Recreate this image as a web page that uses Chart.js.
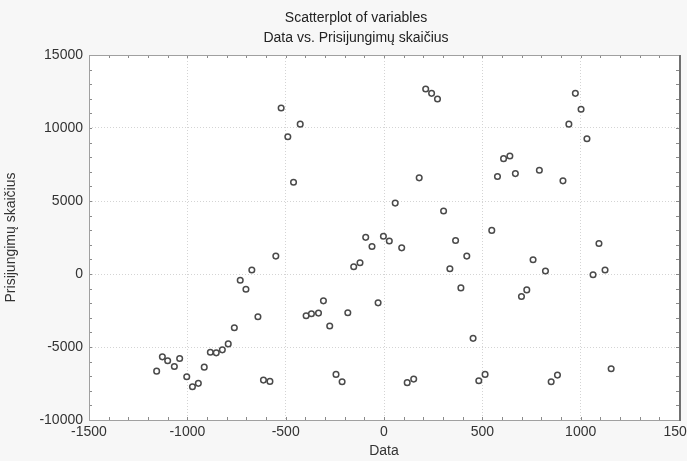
<!DOCTYPE html>
<html>
<head>
<meta charset="utf-8">
<script src="https://cdn.jsdelivr.net/npm/chart.js@4/dist/chart.umd.min.js"></script>
<style>
    html, body { margin: 0; padding: 0; background: #f7f7f7; }
    #wrap { width: 687px; height: 461px; }
</style>
</head>
<body>
<div id="wrap"><canvas id="scatter"></canvas></div>
<script>
const titleLines = ['Scatterplot of variables', 'Data vs. Prisijungimų skaičius'];
const xTitle = 'Data';
const yTitle = 'Prisijungimų skaičius';

const dataX = [-1156, -1127, -1100, -1066, -1039, -1003, -974, -944, -914, -883,
    -853, -822, -792, -761, -731, -702, -672, -641, -613, -580,
    -550, -523, -489, -460, -426, -396, -369, -333, -308, -276,
    -244, -213, -184, -154, -122, -93, -61, -30, -3, 27,
    57, 90, 118, 151, 179, 212, 242, 272, 303, 335,
    364, 391, 421, 453, 482, 514, 548, 577, 608, 640,
    668, 699, 726, 758, 790, 821, 850, 882, 910, 940,
    973, 1002, 1032, 1063, 1093, 1124, 1155];
const dataY = [-6653, -5673, -5945, -6333, -5788, -7037, -7718, -7491, -6381, -5360,
    -5400, -5196, -4788, -3677, -429, -1042, 272, -2928, -7266, -7355,
    1226, 11373, 9398, 6286, 10263, -2860, -2724, -2679, -1839, -3563,
    -6878, -7377, -2656, 497, 770, 2510, 1886, -1975, 2590, 2258,
    4856, 1791, -7443, -7198, 6585, 12667, 12374, 11986, 4311, 361,
    2295, -953, 1226, -4406, -7307, -6878, 2986, 6674, 7900, 8082,
    6878, -1546, -1090, 974, 7103, 204, -7377, -6926, 6381, 10263,
    12374, 11284, 9262, -48, 2090, 272, -6490];

const xRange = [-1500, 1500];
const yRange = [-10000, 15000];

const points = dataX.map((x, i) => ({ x: x, y: dataY[i] }));

const fontFamily = '"Liberation Sans", Arial, sans-serif';
const fontSize = 14;

// white plot area, frame, inward minor ticks and the two title lines
const framePlugin = {
    id: 'frame',
    beforeDraw(chart) {
        const { ctx, chartArea: a } = chart;
        ctx.save();
        ctx.fillStyle = '#f7f7f7';
        ctx.fillRect(0, 0, chart.width, chart.height);
        ctx.fillStyle = '#ffffff';
        ctx.fillRect(a.left, a.top, a.right - a.left, a.bottom - a.top);
        ctx.restore();
    },
    afterDatasetsDraw(chart) {
        const { ctx, chartArea: a, scales } = chart;
        ctx.save();
        ctx.strokeStyle = '#8a8a8a';
        ctx.lineWidth = 1;
        ctx.beginPath();
        for (let v = xRange[0]; v <= xRange[1]; v += 100) {
            const px = Math.round(scales.x.getPixelForValue(v)) + 0.5;
            ctx.moveTo(px, a.top); ctx.lineTo(px, a.top + 3);
            ctx.moveTo(px, a.bottom); ctx.lineTo(px, a.bottom - 3);
        }
        for (let v = yRange[0]; v <= yRange[1]; v += 1000) {
            const py = Math.round(scales.y.getPixelForValue(v)) + 0.5;
            ctx.moveTo(a.left, py); ctx.lineTo(a.left + 3, py);
            ctx.moveTo(a.right, py); ctx.lineTo(a.right - 3, py);
        }
        ctx.stroke();

        ctx.strokeStyle = '#a0a0a0';
        ctx.strokeRect(Math.round(a.left) + 0.5, Math.round(a.top) + 0.5,
            Math.round(a.right - a.left), Math.round(a.bottom - a.top));
        ctx.strokeStyle = '#707070';
        ctx.lineWidth = 2;
        ctx.beginPath();
        ctx.moveTo(Math.round(a.right) + 1, a.top);
        ctx.lineTo(Math.round(a.right) + 1, a.bottom + 1);
        ctx.stroke();

        ctx.fillStyle = '#222';
        ctx.font = fontSize + 'px ' + fontFamily;
        ctx.textAlign = 'center';
        ctx.textBaseline = 'middle';
        const cx = (a.left + a.right) / 2 - 28;
        titleLines.forEach((t, i) => ctx.fillText(t, cx, 18 + i * 20));
        ctx.restore();
    }
};

new Chart(document.getElementById('scatter'), {
    type: 'scatter',
    plugins: [framePlugin],
    data: {
        datasets: [{
            label: yTitle,
            data: points,
            pointStyle: 'circle',
            pointRadius: 2.8,
            pointBorderWidth: 1.5,
            pointBackgroundColor: '#ffffff',
            pointBorderColor: '#4a4a4a',
        }],
    },
    options: {
        responsive: true,
        maintainAspectRatio: false,
        animation: false,
        layout: {
            padding: { left: 0, right: 8, top: 55, bottom: 0 }
        },
        plugins: {
            legend: { display: false },
            tooltip: { enabled: false },
            title: { display: false },
        },
        scales: {
            x: {
                type: 'linear',
                min: xRange[0],
                max: xRange[1],
                afterFit: s => { s.height = 41; s.paddingLeft = 0; s.paddingRight = 0; },
                ticks: {
                    stepSize: 500,
                    padding: 4,
                    color: '#333',
                    font: { family: fontFamily, size: fontSize },
                    maxRotation: 0,
                    callback: v => String(v),
                },
                grid: { color: '#d4d4d4', drawTicks: false, lineWidth: 1 },
                border: { display: false, dash: [1, 2] },
                title: {
                    display: true,
                    text: xTitle,
                    color: '#333',
                    font: { family: fontFamily, size: fontSize },
                    padding: { top: 0, bottom: 1 },
                },
            },
            y: {
                type: 'linear',
                min: yRange[0],
                max: yRange[1],
                afterFit: s => { s.width = 89; },
                ticks: {
                    stepSize: 5000,
                    padding: 6,
                    color: '#333',
                    font: { family: fontFamily, size: fontSize },
                    callback: v => String(v),
                },
                grid: { color: '#d4d4d4', drawTicks: false, lineWidth: 1 },
                border: { display: false, dash: [1, 2] },
                title: {
                    display: true,
                    text: yTitle,
                    color: '#333',
                    font: { family: fontFamily, size: fontSize },
                    padding: { top: 3, bottom: 0 },
                },
            },
        },
    },
});
</script>
</body>
</html>
